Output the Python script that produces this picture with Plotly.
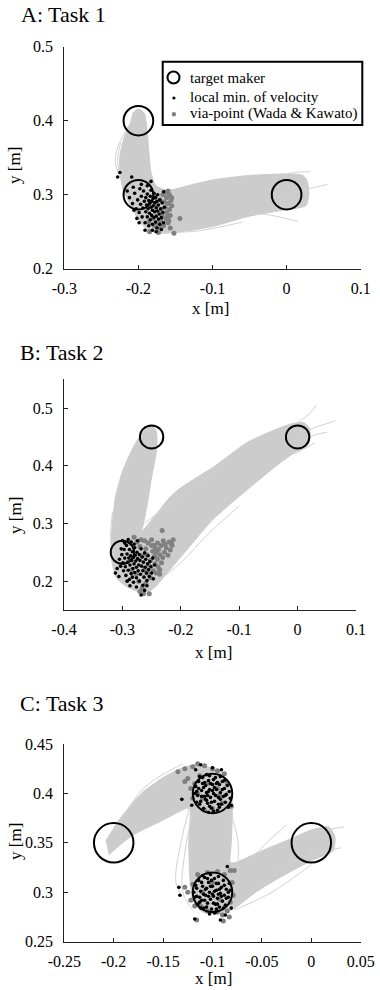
import plotly.graph_objects as go

# ---------------- data ----------------
TARGET_R = 0.02

# Panel A (Task 1)
A_targets_x = [-0.2, -0.2, 0.0]
A_targets_y = [0.4, 0.3, 0.3]
A_band_x = [-0.208, -0.200, -0.192, -0.188, -0.186, -0.183, -0.176, -0.160, -0.130, -0.100, -0.050, 0.000,
            0.022, 0.028, 0.030, 0.026, 0.000, -0.050, -0.100, -0.150, -0.172, -0.188, -0.200, -0.210,
            -0.220, -0.225, -0.225, -0.220, -0.212]
A_band_y = [0.410, 0.416, 0.410, 0.385, 0.360, 0.330, 0.312, 0.306, 0.313, 0.320, 0.326, 0.328,
            0.326, 0.318, 0.300, 0.285, 0.280, 0.271, 0.257, 0.249, 0.248, 0.253, 0.266, 0.285,
            0.305, 0.330, 0.352, 0.375, 0.395]
A_fringe = [
    [(-0.005, 0.300), (0.030, 0.308), (0.055, 0.314)],
    [(-0.050, 0.276), (-0.020, 0.272), (0.015, 0.264)],
    [(-0.198, 0.300), (-0.227, 0.330), (-0.231, 0.352), (-0.218, 0.385), (-0.204, 0.405)],
    [(-0.195, 0.295), (-0.223, 0.325), (-0.228, 0.345), (-0.224, 0.370)],
    [(-0.020, 0.322), (0.010, 0.330), (0.032, 0.331)],
    [(-0.170, 0.249), (-0.120, 0.251), (-0.060, 0.263)],
]
A_black = [(-0.228, 0.324), (-0.225, 0.330), (-0.209, 0.324), (-0.212, 0.296), (-0.208, 0.288), (-0.205, 0.302),
           (-0.203, 0.281), (-0.201, 0.293), (-0.199, 0.276), (-0.198, 0.308), (-0.197, 0.287), (-0.196, 0.298),
           (-0.195, 0.270), (-0.194, 0.282), (-0.193, 0.305), (-0.192, 0.291), (-0.191, 0.262), (-0.190, 0.277),
           (-0.190, 0.296), (-0.189, 0.286), (-0.188, 0.301), (-0.188, 0.270), (-0.187, 0.281), (-0.186, 0.292),
           (-0.186, 0.258), (-0.185, 0.275), (-0.185, 0.288), (-0.184, 0.298), (-0.184, 0.266), (-0.183, 0.283),
           (-0.183, 0.306), (-0.182, 0.272), (-0.182, 0.291), (-0.181, 0.279), (-0.181, 0.260), (-0.180, 0.295),
           (-0.180, 0.285), (-0.179, 0.269), (-0.179, 0.302), (-0.178, 0.277), (-0.178, 0.289), (-0.177, 0.263),
           (-0.177, 0.296), (-0.176, 0.282), (-0.176, 0.271), (-0.175, 0.291), (-0.175, 0.255), (-0.174, 0.278),
           (-0.174, 0.300), (-0.173, 0.267), (-0.173, 0.286), (-0.172, 0.274), (-0.171, 0.293), (-0.171, 0.260),
           (-0.170, 0.281), (-0.169, 0.269), (-0.169, 0.253), (-0.168, 0.289), (-0.167, 0.276), (-0.166, 0.262),
           (-0.166, 0.304), (-0.165, 0.283), (-0.191, 0.252), (-0.181, 0.252), (-0.176, 0.250), (-0.199, 0.262),
           (-0.202, 0.268), (-0.206, 0.279), (-0.196, 0.314), (-0.188, 0.312), (-0.207, 0.310), (-0.215, 0.305),
           (-0.183, 0.318)]
A_gray = [(-0.160, 0.305), (-0.158, 0.300), (-0.162, 0.296), (-0.156, 0.292), (-0.160, 0.288), (-0.164, 0.283),
          (-0.158, 0.280), (-0.155, 0.285), (-0.162, 0.276), (-0.168, 0.272), (-0.157, 0.272), (-0.163, 0.268),
          (-0.170, 0.265), (-0.160, 0.262), (-0.166, 0.258), (-0.172, 0.256), (-0.178, 0.258), (-0.157, 0.255),
          (-0.152, 0.248), (-0.173, 0.249), (-0.185, 0.250), (-0.144, 0.268), (-0.167, 0.300), (-0.171, 0.293),
          (-0.175, 0.285), (-0.177, 0.298), (-0.169, 0.279), (-0.165, 0.290), (-0.181, 0.268), (-0.186, 0.263),
          (-0.174, 0.262), (-0.161, 0.270), (-0.155, 0.296), (-0.163, 0.303), (-0.159, 0.265)]
A_xticks = [-0.3, -0.2, -0.1, 0.0, 0.1]
A_xlabels = ["-0.3", "-0.2", "-0.1", "0", "0.1"]
A_yticks = [0.2, 0.3, 0.4, 0.5]
A_ylabels = ["0.2", "0.3", "0.4", "0.5"]

# Panel B (Task 2)
B_targets_x = [-0.25, -0.3, 0.0]
B_targets_y = [0.45, 0.25, 0.45]
B_band_x = [-0.250, -0.242, -0.241, -0.250, -0.258, -0.265, -0.268, -0.245, -0.220, -0.200, -0.144, -0.087,
            -0.040, -0.010, 0.010, 0.020, 0.022, 0.015, 0.000, -0.030, -0.087, -0.144, -0.175, -0.200,
            -0.225, -0.245, -0.262, -0.290, -0.310, -0.318, -0.318, -0.312, -0.300, -0.285, -0.270, -0.258]
B_band_y = [0.470, 0.460, 0.430, 0.380, 0.330, 0.295, 0.285, 0.312, 0.344, 0.362, 0.398, 0.440,
            0.462, 0.473, 0.475, 0.466, 0.450, 0.432, 0.426, 0.405, 0.358, 0.308, 0.272, 0.242,
            0.212, 0.189, 0.179, 0.189, 0.205, 0.235, 0.290, 0.345, 0.390, 0.425, 0.452, 0.466]
B_fringe = [
    [(-0.020, 0.462), (0.020, 0.490), (0.032, 0.505)],
    [(0.000, 0.455), (0.040, 0.470), (0.065, 0.478)],
    [(0.005, 0.445), (0.035, 0.455), (0.050, 0.458)],
    [(-0.005, 0.420), (0.015, 0.432), (0.030, 0.440)],
    [(-0.262, 0.300), (-0.200, 0.348), (-0.140, 0.390)],
    [(-0.250, 0.192), (-0.200, 0.232), (-0.150, 0.285), (-0.100, 0.330)],
    [(-0.300, 0.210), (-0.319, 0.260), (-0.317, 0.320)],
]
B_black = [(-0.312, 0.214), (-0.306, 0.208), (-0.305, 0.238), (-0.303, 0.226), (-0.301, 0.246), (-0.299, 0.232),
           (-0.298, 0.218), (-0.297, 0.255), (-0.296, 0.240), (-0.295, 0.225), (-0.294, 0.210), (-0.293, 0.262),
           (-0.292, 0.247), (-0.291, 0.233), (-0.290, 0.219), (-0.289, 0.240), (-0.288, 0.255), (-0.288, 0.203),
           (-0.287, 0.228), (-0.286, 0.244), (-0.285, 0.213), (-0.285, 0.268), (-0.284, 0.236), (-0.283, 0.251),
           (-0.282, 0.222), (-0.281, 0.198), (-0.281, 0.241), (-0.280, 0.230), (-0.279, 0.258), (-0.279, 0.215),
           (-0.278, 0.245), (-0.277, 0.235), (-0.276, 0.206), (-0.276, 0.224), (-0.275, 0.250), (-0.274, 0.239),
           (-0.274, 0.270), (-0.273, 0.218), (-0.272, 0.228), (-0.271, 0.200), (-0.271, 0.246), (-0.270, 0.236),
           (-0.269, 0.212), (-0.268, 0.256), (-0.267, 0.226), (-0.266, 0.242), (-0.265, 0.193), (-0.265, 0.218),
           (-0.264, 0.233), (-0.263, 0.207), (-0.262, 0.249), (-0.261, 0.224), (-0.260, 0.238), (-0.259, 0.214),
           (-0.258, 0.201), (-0.257, 0.230), (-0.256, 0.244), (-0.255, 0.220), (-0.254, 0.208), (-0.253, 0.234),
           (-0.251, 0.225), (-0.250, 0.214), (-0.248, 0.240), (-0.247, 0.204), (-0.245, 0.228), (-0.268, 0.176),
           (-0.262, 0.184), (-0.300, 0.270), (-0.296, 0.266), (-0.290, 0.272), (-0.280, 0.264), (-0.302, 0.256),
           (-0.309, 0.222), (-0.287, 0.192), (-0.276, 0.190), (-0.258, 0.192), (-0.283, 0.207), (-0.292, 0.200)]
B_gray = [(-0.232, 0.288), (-0.213, 0.272), (-0.215, 0.262), (-0.220, 0.268), (-0.225, 0.258), (-0.218, 0.254),
          (-0.228, 0.250), (-0.222, 0.245), (-0.234, 0.262), (-0.238, 0.255), (-0.231, 0.241), (-0.236, 0.246),
          (-0.242, 0.250), (-0.240, 0.238), (-0.245, 0.243), (-0.233, 0.232), (-0.239, 0.225), (-0.244, 0.230),
          (-0.248, 0.252), (-0.250, 0.262), (-0.256, 0.266), (-0.262, 0.270), (-0.268, 0.272), (-0.275, 0.268),
          (-0.252, 0.236), (-0.255, 0.228), (-0.247, 0.218), (-0.242, 0.214), (-0.236, 0.212), (-0.252, 0.206),
          (-0.257, 0.214), (-0.262, 0.220), (-0.260, 0.196), (-0.266, 0.188), (-0.270, 0.182), (-0.264, 0.178),
          (-0.254, 0.178), (-0.272, 0.200), (-0.266, 0.244), (-0.260, 0.256), (-0.270, 0.260), (-0.280, 0.276),
          (-0.227, 0.264), (-0.216, 0.265), (-0.230, 0.270), (-0.246, 0.262), (-0.258, 0.246), (-0.276, 0.212),
          (-0.284, 0.220), (-0.250, 0.272), (-0.240, 0.266), (-0.244, 0.258), (-0.236, 0.220)]
B_xticks = [-0.4, -0.3, -0.2, -0.1, 0.0, 0.1]
B_xlabels = ["-0.4", "-0.3", "-0.2", "-0.1", "0", "0.1"]
B_yticks = [0.2, 0.3, 0.4, 0.5]
B_ylabels = ["0.2", "0.3", "0.4", "0.5"]

# Panel C (Task 3)
C_targets_x = [-0.2, -0.1, -0.1, 0.0]
C_targets_y = [0.35, 0.4, 0.3, 0.35]
C_band_x = [-0.208, -0.194, -0.172, -0.150, -0.133, -0.119, -0.105, -0.090, -0.081, -0.080, -0.081, -0.082,
            -0.077, -0.050, -0.021, 0.000, 0.018, 0.024, 0.022, 0.000, -0.030, -0.055, -0.079, -0.095,
            -0.110, -0.120, -0.123, -0.124, -0.123, -0.126, -0.150, -0.182, -0.205]
C_band_y = [0.352, 0.374, 0.400, 0.416, 0.425, 0.429, 0.427, 0.420, 0.405, 0.380, 0.350, 0.330,
            0.330, 0.342, 0.354, 0.363, 0.366, 0.356, 0.342, 0.332, 0.316, 0.301, 0.283, 0.278,
            0.280, 0.292, 0.315, 0.350, 0.384, 0.385, 0.373, 0.357, 0.338]
C_fringe = [
    [(-0.122, 0.390), (-0.132, 0.350), (-0.137, 0.310), (-0.130, 0.295)],
    [(-0.120, 0.380), (-0.128, 0.340), (-0.130, 0.300), (-0.120, 0.282)],
    [(-0.086, 0.392), (-0.074, 0.350), (-0.077, 0.310)],
    [(-0.020, 0.352), (0.010, 0.362), (0.033, 0.366)],
    [(-0.040, 0.322), (0.000, 0.338), (0.030, 0.345)],
    [(-0.078, 0.282), (-0.040, 0.300), (0.000, 0.328)],
    [(-0.198, 0.362), (-0.170, 0.405), (-0.130, 0.430)],
    [(-0.060, 0.335), (-0.040, 0.355), (-0.025, 0.368)],
]
C_black = [(-0.117, 0.407), (-0.115, 0.398), (-0.114, 0.412), (-0.112, 0.392), (-0.111, 0.403), (-0.110, 0.416),
           (-0.109, 0.385), (-0.108, 0.397), (-0.107, 0.408), (-0.106, 0.401), (-0.105, 0.390), (-0.104, 0.413),
           (-0.103, 0.404), (-0.102, 0.396), (-0.101, 0.385), (-0.100, 0.409), (-0.099, 0.400), (-0.098, 0.392),
           (-0.097, 0.416), (-0.096, 0.404), (-0.095, 0.383), (-0.094, 0.396), (-0.093, 0.409), (-0.092, 0.401),
           (-0.091, 0.389), (-0.090, 0.412), (-0.089, 0.397), (-0.088, 0.405), (-0.087, 0.391), (-0.086, 0.399),
           (-0.085, 0.408), (-0.084, 0.386), (-0.113, 0.389), (-0.116, 0.402), (-0.109, 0.406), (-0.103, 0.418),
           (-0.105, 0.398), (-0.099, 0.382), (-0.092, 0.417), (-0.107, 0.394), (-0.100, 0.403), (-0.096, 0.410),
           (-0.131, 0.394), (-0.121, 0.388), (-0.100, 0.426), (-0.112, 0.429), (-0.117, 0.424), (-0.091, 0.424),
           (-0.081, 0.388), (-0.104, 0.381),
           (-0.118, 0.400), (-0.116, 0.391), (-0.114, 0.405), (-0.111, 0.397), (-0.108, 0.411), (-0.106, 0.393),
           (-0.104, 0.402), (-0.102, 0.410), (-0.101, 0.391), (-0.099, 0.414), (-0.097, 0.398), (-0.095, 0.411),
           (-0.094, 0.389), (-0.092, 0.394), (-0.090, 0.404), (-0.088, 0.413), (-0.087, 0.398), (-0.083, 0.402),
           (-0.082, 0.395), (-0.098, 0.406), (-0.103, 0.387), (-0.110, 0.410), (-0.113, 0.417), (-0.093, 0.386),
           (-0.106, 0.419),
           (-0.117, 0.307), (-0.116, 0.296), (-0.115, 0.288), (-0.114, 0.312), (-0.112, 0.301), (-0.111, 0.292),
           (-0.110, 0.306), (-0.109, 0.284), (-0.108, 0.315), (-0.107, 0.297), (-0.106, 0.304), (-0.105, 0.289),
           (-0.104, 0.310), (-0.103, 0.300), (-0.102, 0.293), (-0.101, 0.283), (-0.100, 0.306), (-0.099, 0.296),
           (-0.098, 0.314), (-0.097, 0.288), (-0.096, 0.302), (-0.095, 0.294), (-0.094, 0.309), (-0.093, 0.285),
           (-0.092, 0.299), (-0.091, 0.305), (-0.090, 0.291), (-0.089, 0.312), (-0.088, 0.297), (-0.087, 0.287),
           (-0.086, 0.303), (-0.084, 0.295), (-0.113, 0.295), (-0.106, 0.285), (-0.100, 0.298), (-0.096, 0.283),
           (-0.110, 0.317), (-0.102, 0.318), (-0.094, 0.316), (-0.119, 0.300), (-0.134, 0.305), (-0.133, 0.297),
           (-0.118, 0.273), (-0.092, 0.272), (-0.087, 0.277), (-0.081, 0.284), (-0.085, 0.326), (-0.103, 0.278),
           (-0.098, 0.279), (-0.082, 0.302),
           (-0.118, 0.295), (-0.116, 0.304), (-0.113, 0.290), (-0.111, 0.310), (-0.108, 0.292), (-0.107, 0.303),
           (-0.104, 0.296), (-0.102, 0.306), (-0.101, 0.312), (-0.099, 0.289), (-0.098, 0.301), (-0.096, 0.309),
           (-0.095, 0.288), (-0.093, 0.303), (-0.091, 0.296), (-0.089, 0.284), (-0.088, 0.307), (-0.086, 0.294),
           (-0.084, 0.300), (-0.083, 0.309), (-0.105, 0.314), (-0.112, 0.284), (-0.097, 0.280), (-0.109, 0.298),
           (-0.094, 0.298)]
C_gray = [(-0.135, 0.422), (-0.128, 0.425), (-0.120, 0.427), (-0.115, 0.430), (-0.108, 0.428), (-0.100, 0.425),
          (-0.095, 0.423), (-0.088, 0.420), (-0.125, 0.415), (-0.118, 0.410), (-0.122, 0.405), (-0.115, 0.400),
          (-0.110, 0.395), (-0.105, 0.410), (-0.095, 0.405), (-0.090, 0.390), (-0.100, 0.385), (-0.085, 0.410),
          (-0.113, 0.418), (-0.128, 0.412), (-0.120, 0.395), (-0.081, 0.387), (-0.108, 0.383), (-0.093, 0.398),
          (-0.125, 0.300), (-0.122, 0.292), (-0.120, 0.308), (-0.115, 0.318), (-0.105, 0.320), (-0.095, 0.321),
          (-0.088, 0.318), (-0.082, 0.322), (-0.080, 0.310), (-0.079, 0.297), (-0.082, 0.290), (-0.085, 0.281),
          (-0.090, 0.277), (-0.095, 0.280), (-0.105, 0.281), (-0.112, 0.286), (-0.118, 0.286), (-0.116, 0.272),
          (-0.089, 0.271), (-0.128, 0.305), (-0.110, 0.300), (-0.100, 0.310), (-0.093, 0.293), (-0.078, 0.322),
          (-0.083, 0.275)]
C_xticks = [-0.25, -0.2, -0.15, -0.1, -0.05, 0.0, 0.05]
C_xlabels = ["-0.25", "-0.2", "-0.15", "-0.1", "-0.05", "0", "0.05"]
C_yticks = [0.25, 0.3, 0.35, 0.4, 0.45]
C_ylabels = ["0.25", "0.3", "0.35", "0.4", "0.45"]

panel_titles = ["A: Task 1", "B: Task 2", "C: Task 3"]
legend_labels = ["target maker", "local min. of velocity", "via-point (Wada & Kawato)"]

# ---------------- style / layout ----------------
W, H = 380, 990
FONT = "Liberation Serif"
BAND = "#cccccc"
FRINGE = "#d2d2d2"
GRAYDOT = "#808080"

def px_x(p):
    return p / W

def px_y(p):
    return 1 - p / H

panels = [
    dict(band=(A_band_x, A_band_y), fringe=A_fringe, black=A_black, gray=A_gray,
         tx=A_targets_x, ty=A_targets_y, xr=[-0.3, 0.1], yr=[0.2, 0.5],
         xt=(A_xticks, A_xlabels), yt=(A_yticks, A_ylabels),
         xdom=[64.3, 360.7], ydom=[268.7, 46.7]),
    dict(band=(B_band_x, B_band_y), fringe=B_fringe, black=B_black, gray=B_gray,
         tx=B_targets_x, ty=B_targets_y, xr=[-0.4, 0.1], yr=[0.15, 0.55],
         xt=(B_xticks, B_xlabels), yt=(B_yticks, B_ylabels),
         xdom=[64.0, 356.0], ydom=[610.0, 379.3]),
    dict(band=(C_band_x, C_band_y), fringe=C_fringe, black=C_black, gray=C_gray,
         tx=C_targets_x, ty=C_targets_y, xr=[-0.25, 0.05], yr=[0.25, 0.45],
         xt=(C_xticks, C_xlabels), yt=(C_yticks, C_ylabels),
         xdom=[64.3, 360.7], ydom=[941.7, 744.0]),
]

fig = go.Figure()
shapes = []
annotations = []
layout = {}

for i, p in enumerate(panels):
    sfx = "" if i == 0 else str(i + 1)
    xa, ya = "x" + sfx, "y" + sfx
    bx, by = p["band"]
    fig.add_trace(go.Scatter(x=bx, y=by, xaxis=xa, yaxis=ya, mode="lines", fill="toself",
                             fillcolor=BAND, line=dict(color=BAND, width=1, shape="spline", smoothing=0.6),
                             hoverinfo="skip", showlegend=False))
    for fr in p["fringe"]:
        fx, fy = zip(*fr)
        fig.add_trace(go.Scatter(x=list(fx), y=list(fy), xaxis=xa, yaxis=ya, mode="lines",
                                 line=dict(color=FRINGE, width=1, shape="spline"),
                                 hoverinfo="skip", showlegend=False))
    gx, gy = zip(*p["gray"])
    fig.add_trace(go.Scatter(x=list(gx), y=list(gy), xaxis=xa, yaxis=ya, mode="markers",
                             marker=dict(color=GRAYDOT, size=5, line=dict(width=0)),
                             name=legend_labels[2], showlegend=False))
    kx, ky = zip(*p["black"])
    fig.add_trace(go.Scatter(x=list(kx), y=list(ky), xaxis=xa, yaxis=ya, mode="markers",
                             marker=dict(color="black", size=3.6, line=dict(width=0)),
                             name=legend_labels[1], showlegend=False))
    for cx, cy in zip(p["tx"], p["ty"]):
        shapes.append(dict(type="circle", xref=xa, yref=ya, x0=cx - TARGET_R, x1=cx + TARGET_R,
                           y0=cy - TARGET_R, y1=cy + TARGET_R, line=dict(color="black", width=2),
                           layer="above"))
    axis_common = dict(showgrid=False, zeroline=False, showline=True, linecolor="#222", linewidth=1.2,
                       ticks="inside", ticklen=4, tickwidth=1, tickcolor="#222", automargin=False,
                       tickfont=dict(family=FONT, size=16, color="black"), mirror=False)
    layout["xaxis" + sfx] = dict(axis_common, domain=[px_x(p["xdom"][0]), px_x(p["xdom"][1])],
                                 range=p["xr"], anchor=ya, tickvals=p["xt"][0], ticktext=p["xt"][1],
                                 ticklabelstandoff=5)
    layout["yaxis" + sfx] = dict(axis_common, domain=[px_y(p["ydom"][0]), px_y(p["ydom"][1])],
                                 range=p["yr"], anchor=xa, tickvals=p["yt"][0], ticktext=p["yt"][1],
                                 ticklabelstandoff=7)

# panel titles and axis titles (pixel placed)
title_pos = [(19, 15), (18, 353), (18, 703)]
xlab_pos = [(211, 308), (213, 652), (213, 978)]
ylab_pos = [(15, 166), (15, 516), (15, 842)]
for t, (tx, ty) in zip(panel_titles, title_pos):
    annotations.append(dict(text=t, x=px_x(tx), y=px_y(ty), xref="paper", yref="paper",
                            xanchor="left", yanchor="middle", showarrow=False,
                            font=dict(family=FONT, size=22, color="black")))
for (tx, ty) in xlab_pos:
    annotations.append(dict(text="x [m]", x=px_x(tx), y=px_y(ty), xref="paper", yref="paper",
                            xanchor="center", yanchor="middle", showarrow=False,
                            font=dict(family=FONT, size=17, color="black")))
for (tx, ty) in ylab_pos:
    annotations.append(dict(text="y [m]", x=px_x(tx), y=px_y(ty), xref="paper", yref="paper",
                            xanchor="center", yanchor="middle", showarrow=False, textangle=-90,
                            font=dict(family=FONT, size=17, color="black")))

# legend box (panel A)
shapes.append(dict(type="rect", xref="paper", yref="paper", x0=px_x(162.7), x1=px_x(362.3),
                   y0=px_y(125), y1=px_y(61.7), line=dict(color="black", width=2), fillcolor="white",
                   layer="above"))
shapes.append(dict(type="circle", xref="paper", yref="paper", x0=px_x(167.5), x1=px_x(179.5),
                   y0=px_y(83.5), y1=px_y(71.5), line=dict(color="black", width=2), layer="above"))
shapes.append(dict(type="circle", xref="paper", yref="paper", x0=px_x(172.3), x1=px_x(175.5),
                   y0=px_y(99.6), y1=px_y(96.4), line=dict(width=0), fillcolor="black", layer="above"))
shapes.append(dict(type="circle", xref="paper", yref="paper", x0=px_x(171.7), x1=px_x(176.1),
                   y0=px_y(116.5), y1=px_y(112.1), line=dict(width=0), fillcolor=GRAYDOT, layer="above"))
for lab, ly in zip(legend_labels, [77.5, 96.5, 114]):
    annotations.append(dict(text=lab, x=px_x(188), y=px_y(ly), xref="paper", yref="paper",
                            xanchor="left", yanchor="middle", showarrow=False,
                            font=dict(family=FONT, size=15, color="black")))

fig.update_layout(width=W, height=H, margin=dict(l=0, r=0, t=0, b=0, autoexpand=False),
                  paper_bgcolor="white", plot_bgcolor="white", showlegend=False,
                  shapes=shapes, annotations=annotations,
                  font=dict(family=FONT, color="black"), **layout)

fig.write_html("out.html", config={"displayModeBar": False},
               post_script="document.body.style.margin='0';document.body.style.overflow='hidden';")
